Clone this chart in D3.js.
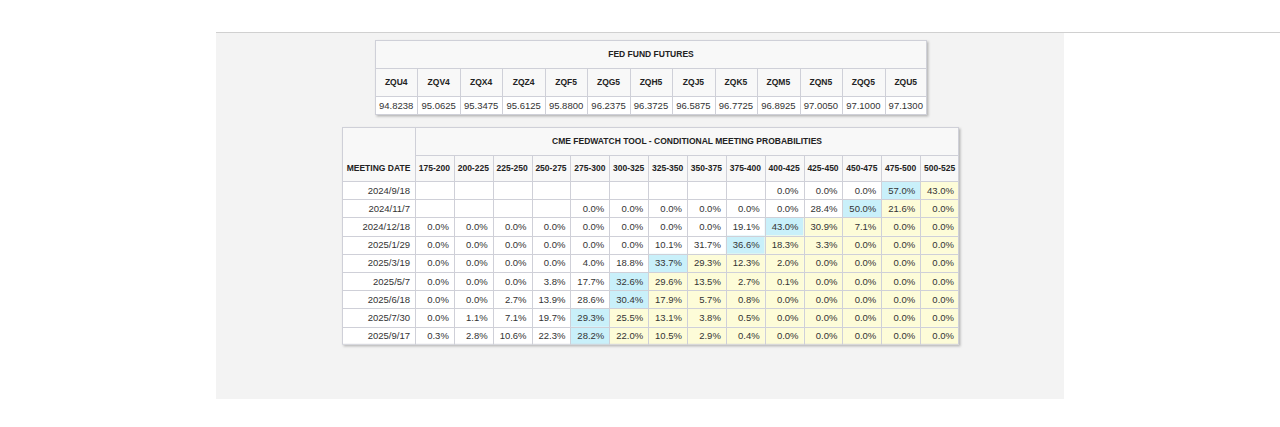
<!DOCTYPE html>
<html>
<head>
<meta charset="utf-8">
<script src="https://cdn.jsdelivr.net/npm/d3@7"></script>
<style>
body { margin: 0; background: #fff; }
svg { display: block; font-family: "Liberation Sans", Arial, sans-serif; }
</style>
</head>
<body>
<svg id="chart" width="1280" height="427"></svg>
<script>
// futures table
var contracts = ["ZQU4", "ZQV4", "ZQX4", "ZQZ4", "ZQF5", "ZQG5", "ZQH5", "ZQJ5", "ZQK5", "ZQM5", "ZQN5", "ZQQ5", "ZQU5"];
var prices = ["94.8238", "95.0625", "95.3475", "95.6125", "95.8800", "96.2375", "96.3725", "96.5875", "96.7725", "96.8925", "97.0050", "97.1000", "97.1300"];

// probabilities table
var ranges = ["175-200", "200-225", "225-250", "250-275", "275-300", "300-325", "325-350", "350-375", "375-400", "400-425", "425-450", "450-475", "475-500", "500-525"];
var meetings = ["2024/9/18", "2024/11/7", "2024/12/18", "2025/1/29", "2025/3/19", "2025/5/7", "2025/6/18", "2025/7/30", "2025/9/17"];
var probs = [
	[null, null, null, null, null, null, null, null, null, 0.0, 0.0, 0.0, 57.0, 43.0],
	[null, null, null, null, 0.0, 0.0, 0.0, 0.0, 0.0, 0.0, 28.4, 50.0, 21.6, 0.0],
	[0.0, 0.0, 0.0, 0.0, 0.0, 0.0, 0.0, 0.0, 19.1, 43.0, 30.9, 7.1, 0.0, 0.0],
	[0.0, 0.0, 0.0, 0.0, 0.0, 0.0, 10.1, 31.7, 36.6, 18.3, 3.3, 0.0, 0.0, 0.0],
	[0.0, 0.0, 0.0, 0.0, 4.0, 18.8, 33.7, 29.3, 12.3, 2.0, 0.0, 0.0, 0.0, 0.0],
	[0.0, 0.0, 0.0, 3.8, 17.7, 32.6, 29.6, 13.5, 2.7, 0.1, 0.0, 0.0, 0.0, 0.0],
	[0.0, 0.0, 2.7, 13.9, 28.6, 30.4, 17.9, 5.7, 0.8, 0.0, 0.0, 0.0, 0.0, 0.0],
	[0.0, 1.1, 7.1, 19.7, 29.3, 25.5, 13.1, 3.8, 0.5, 0.0, 0.0, 0.0, 0.0, 0.0],
	[0.3, 2.8, 10.6, 22.3, 28.2, 22.0, 10.5, 2.9, 0.4, 0.0, 0.0, 0.0, 0.0, 0.0]
];

var svg = d3.select("#chart");
var lineColor = "#cfd0d8";
var headBg = "#f8f8f8";
var blue = "#c9f0fa";
var yellow = "#fdfcd8";

// panel
svg.append("rect")
	.attr("x", 216).attr("y", 32)
	.attr("width", 848).attr("height", 367)
	.attr("fill", "#f3f3f3");
svg.append("line")
	.attr("x1", 216).attr("x2", 1280)
	.attr("y1", 32.5).attr("y2", 32.5)
	.attr("stroke", "#d0d0d0");

var shadow = svg.append("defs").append("filter")
	.attr("id", "shadow").attr("x", "-5%").attr("y", "-5%")
	.attr("width", "110%").attr("height", "120%");
shadow.append("feDropShadow")
	.attr("dx", 1.5).attr("dy", 1.5).attr("stdDeviation", 1.2)
	.attr("flood-color", "#000").attr("flood-opacity", 0.25);

// ---- top table ----
var t1 = {x: 375, y: 40, w: 552, title: 28, head: 28, row: 19};
var x1 = d3.scaleBand().domain(contracts).range([t1.x, t1.x + t1.w]);
var g1 = svg.append("g");
g1.append("rect")
	.attr("x", t1.x).attr("y", t1.y)
	.attr("width", t1.w).attr("height", t1.title + t1.head + t1.row)
	.attr("fill", "#fff").attr("filter", "url(#shadow)");
g1.append("rect")
	.attr("x", t1.x).attr("y", t1.y)
	.attr("width", t1.w).attr("height", t1.title + t1.head)
	.attr("fill", headBg);
g1.append("text")
	.attr("x", t1.x + t1.w / 2).attr("y", t1.y + t1.title / 2 + 3)
	.attr("text-anchor", "middle").attr("font-size", 8.5).attr("font-weight", "bold")
	.attr("fill", "#222")
	.text("FED FUND FUTURES");
g1.selectAll(".hd").data(contracts).enter().append("text")
	.attr("x", function(d) { return x1(d) + x1.bandwidth() / 2; })
	.attr("y", t1.y + t1.title + t1.head / 2 + 3)
	.attr("text-anchor", "middle").attr("font-size", 8.5).attr("font-weight", "bold")
	.attr("fill", "#222")
	.text(function(d) { return d; });
g1.selectAll(".pv").data(prices).enter().append("text")
	.attr("x", function(d, i) { return x1(contracts[i]) + x1.bandwidth() / 2; })
	.attr("y", t1.y + t1.title + t1.head + t1.row / 2 + 3.5)
	.attr("text-anchor", "middle").attr("font-size", 9.5)
	.attr("fill", "#333")
	.text(function(d) { return d; });
// grid
g1.selectAll(".vl").data(contracts.slice(1)).enter().append("line")
	.attr("x1", function(d) { return Math.round(x1(d)) + 0.5; })
	.attr("x2", function(d) { return Math.round(x1(d)) + 0.5; })
	.attr("y1", t1.y + t1.title).attr("y2", t1.y + t1.title + t1.head + t1.row)
	.attr("stroke", lineColor);
[t1.title, t1.title + t1.head].forEach(function(h) {
	g1.append("line")
		.attr("x1", t1.x).attr("x2", t1.x + t1.w)
		.attr("y1", t1.y + h + 0.5).attr("y2", t1.y + h + 0.5)
		.attr("stroke", lineColor);
});
g1.append("rect")
	.attr("x", t1.x + 0.5).attr("y", t1.y + 0.5)
	.attr("width", t1.w - 1).attr("height", t1.title + t1.head + t1.row - 1)
	.attr("fill", "none").attr("stroke", lineColor);

// ---- bottom table ----
var t2 = {x: 342, y: 127, w: 617, first: 73, title: 28, head: 26, row: 18.2};
var x2 = d3.scaleBand().domain(ranges).range([t2.x + t2.first, t2.x + t2.w]);
var y2 = d3.scaleBand().domain(meetings)
	.range([t2.y + t2.title + t2.head, t2.y + t2.title + t2.head + t2.row * meetings.length]);
var tH = t2.title + t2.head + t2.row * meetings.length;
var g2 = svg.append("g");
g2.append("rect")
	.attr("x", t2.x).attr("y", t2.y)
	.attr("width", t2.w).attr("height", tH)
	.attr("fill", "#fff").attr("filter", "url(#shadow)");
g2.append("rect")
	.attr("x", t2.x).attr("y", t2.y)
	.attr("width", t2.w).attr("height", t2.title + t2.head)
	.attr("fill", headBg);

// cell colours: row max in blue, higher ranges in yellow
var cells = [];
probs.forEach(function(row, r) {
	var vals = row.map(function(v) { return v == null ? -1 : v; });
	var maxI = vals.indexOf(d3.max(vals));
	row.forEach(function(v, c) {
		cells.push({r: meetings[r], c: ranges[c], v: v, fill: c == maxI ? blue : (c > maxI ? yellow : "#fff")});
	});
});
g2.selectAll(".cell").data(cells).enter().append("rect")
	.attr("x", function(d) { return x2(d.c); })
	.attr("y", function(d) { return y2(d.r); })
	.attr("width", x2.bandwidth()).attr("height", y2.bandwidth())
	.attr("fill", function(d) { return d.fill; });
g2.selectAll(".val").data(cells.filter(function(d) { return d.v != null; })).enter().append("text")
	.attr("x", function(d) { return x2(d.c) + x2.bandwidth() - 5; })
	.attr("y", function(d) { return y2(d.r) + y2.bandwidth() / 2 + 3.5; })
	.attr("text-anchor", "end").attr("font-size", 9.5)
	.attr("fill", "#333")
	.text(function(d) { return d.v.toFixed(1) + "%"; });
g2.selectAll(".dt").data(meetings).enter().append("text")
	.attr("x", t2.x + t2.first - 5)
	.attr("y", function(d) { return y2(d) + y2.bandwidth() / 2 + 3.5; })
	.attr("text-anchor", "end").attr("font-size", 9.5)
	.attr("fill", "#333")
	.text(function(d) { return d; });
g2.append("text")
	.attr("x", t2.x + t2.first + (t2.w - t2.first) / 2).attr("y", t2.y + t2.title / 2 + 3)
	.attr("text-anchor", "middle").attr("font-size", 8.5).attr("font-weight", "bold")
	.attr("fill", "#222")
	.text("CME FEDWATCH TOOL - CONDITIONAL MEETING PROBABILITIES");
g2.append("text")
	.attr("x", t2.x + t2.first / 2).attr("y", t2.y + t2.title + t2.head / 2 + 3)
	.attr("text-anchor", "middle").attr("font-size", 8.5).attr("font-weight", "bold")
	.attr("fill", "#222")
	.text("MEETING DATE");
g2.selectAll(".rh").data(ranges).enter().append("text")
	.attr("x", function(d) { return x2(d) + x2.bandwidth() / 2; })
	.attr("y", t2.y + t2.title + t2.head / 2 + 3)
	.attr("text-anchor", "middle").attr("font-size", 8.5).attr("font-weight", "bold")
	.attr("fill", "#222")
	.text(function(d) { return d; });
// grid
g2.selectAll(".vl").data(ranges.slice(1)).enter().append("line")
	.attr("x1", function(d) { return Math.round(x2(d)) + 0.5; })
	.attr("x2", function(d) { return Math.round(x2(d)) + 0.5; })
	.attr("y1", t2.y + t2.title).attr("y2", t2.y + tH)
	.attr("stroke", lineColor);
g2.append("line")
	.attr("x1", t2.x + t2.first + 0.5).attr("x2", t2.x + t2.first + 0.5)
	.attr("y1", t2.y).attr("y2", t2.y + tH)
	.attr("stroke", lineColor);
g2.append("line")
	.attr("x1", t2.x + t2.first).attr("x2", t2.x + t2.w)
	.attr("y1", t2.y + t2.title + 0.5).attr("y2", t2.y + t2.title + 0.5)
	.attr("stroke", lineColor);
g2.selectAll(".hl").data(meetings).enter().append("line")
	.attr("x1", t2.x).attr("x2", t2.x + t2.w)
	.attr("y1", function(d) { return Math.round(y2(d)) + 0.5; })
	.attr("y2", function(d) { return Math.round(y2(d)) + 0.5; })
	.attr("stroke", lineColor);
g2.append("rect")
	.attr("x", t2.x + 0.5).attr("y", t2.y + 0.5)
	.attr("width", t2.w - 1).attr("height", tH - 1)
	.attr("fill", "none").attr("stroke", lineColor);
</script>
</body>
</html>
